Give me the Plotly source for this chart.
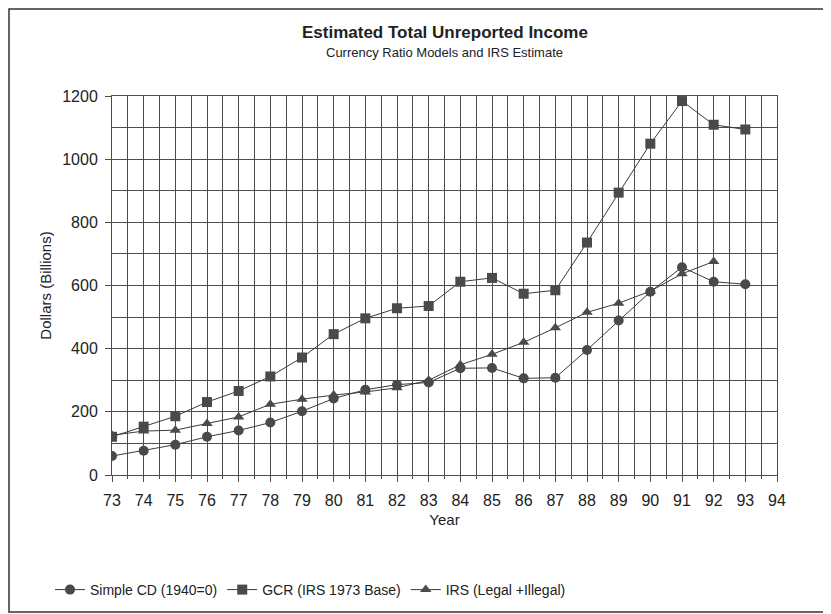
import plotly.graph_objects as go

years = list(range(73, 94))
simple_cd = [60, 77, 96, 121, 141, 166, 202, 242, 270, 286, 293, 338, 339, 306, 308, 396, 489, 580, 658, 612, 604]
gcr = [121, 153, 186, 231, 266, 312, 372, 446, 496, 528, 535, 612, 624, 574, 585, 736, 894, 1049, 1184, 1109, 1094]
irs_years = list(range(73, 93))
irs = [126, 139, 142, 163, 184, 224, 240, 253, 263, 276, 300, 349, 382, 420, 466, 515, 544, 582, 637, 676]

x_ticks = list(range(73, 95))
y_ticks = list(range(0, 1201, 200))

FONT = "Liberation Sans Narrow, Arial Narrow, Liberation Sans, Arial, sans-serif"
TFONT = "Liberation Sans, Arial, Helvetica, sans-serif"
LINE = "#3a3a3a"
MARK = "#4a4a4a"
GRID = "#4d4d4d"

fig = go.Figure()
fig.add_trace(go.Scatter(x=years, y=simple_cd, name="Simple CD (1940=0)", mode="lines+markers",
                         line=dict(color=LINE, width=1),
                         marker=dict(symbol="circle", size=10, color=MARK)))
fig.add_trace(go.Scatter(x=years, y=gcr, name="GCR (IRS 1973 Base)", mode="lines+markers",
                         line=dict(color=LINE, width=1),
                         marker=dict(symbol="square", size=10, color=MARK)))
fig.add_trace(go.Scatter(x=irs_years, y=irs, name="IRS (Legal +Illegal)", mode="lines+markers",
                         line=dict(color=LINE, width=1),
                         marker=dict(symbol="triangle-up", size=10, color=MARK)))

L, R, T, B = 104, 62, 88, 147
PW, PH = 831 - L - R, 614 - T - B

fig.update_layout(
    width=831, height=614,
    margin=dict(l=L, r=R, t=T, b=B, autoexpand=False),
    paper_bgcolor="white", plot_bgcolor="white",
    font=dict(family=TFONT, size=15, color="#222"),
    showlegend=True,
    legend=dict(orientation="h", x=(42 - L) / PW, xanchor="left", y=(PH - (582 - T)) / PH,
                yanchor="middle",
                font=dict(family=FONT, size=14, color="#222"),
                bgcolor="rgba(0,0,0,0)"),
    xaxis=dict(range=[73, 94], tickvals=x_ticks, ticktext=[str(v) for v in x_ticks],
               showgrid=True, gridcolor=GRID, gridwidth=1,
               minor=dict(dtick=0.5, tick0=73, showgrid=True, gridcolor=GRID, gridwidth=1,
                          ticks="outside", ticklen=3, tickcolor=GRID),
               ticks="outside", ticklen=6, tickcolor=GRID, ticklabelstandoff=5,
               showline=True, linecolor=GRID, mirror=True, zeroline=False,
               title=dict(text="Year", font=dict(family=TFONT, size=15), standoff=6),
               tickfont=dict(family=TFONT, size=16)),
    yaxis=dict(range=[0, 1200], tickvals=y_ticks,
               showgrid=True, gridcolor=GRID, gridwidth=1,
               minor=dict(dtick=100, showgrid=True, gridcolor=GRID, gridwidth=1),
               ticks="outside", ticklen=6, tickcolor=GRID, ticklabelstandoff=4,
               showline=True, linecolor=GRID, mirror=True, zeroline=False,
               title=dict(text="Dollars (Billions)", font=dict(family=TFONT, size=15), standoff=6),
               tickfont=dict(family=TFONT, size=16)),
    annotations=[
        dict(text="<b>Estimated Total Unreported Income</b>", xref="paper", yref="paper",
             x=0.5, y=1.0, yshift=64, xanchor="center", yanchor="middle", showarrow=False,
             font=dict(family=FONT, size=17, color="#222")),
        dict(text="Currency Ratio Models and IRS Estimate", xref="paper", yref="paper",
             x=0.5, y=1.0, yshift=44, xanchor="center", yanchor="middle", showarrow=False,
             font=dict(family=FONT, size=13, color="#222")),
    ],
    shapes=[dict(type="rect", xref="paper", yref="paper",
                 x0=(1 - L) / PW, x1=(821 - L) / PW,
                 y0=(PH - (604 - T)) / PH, y1=(PH - (1 - T)) / PH,
                 line=dict(color="#333", width=1.5), fillcolor="rgba(0,0,0,0)", layer="below")],
)

fig.write_html("out.html")
